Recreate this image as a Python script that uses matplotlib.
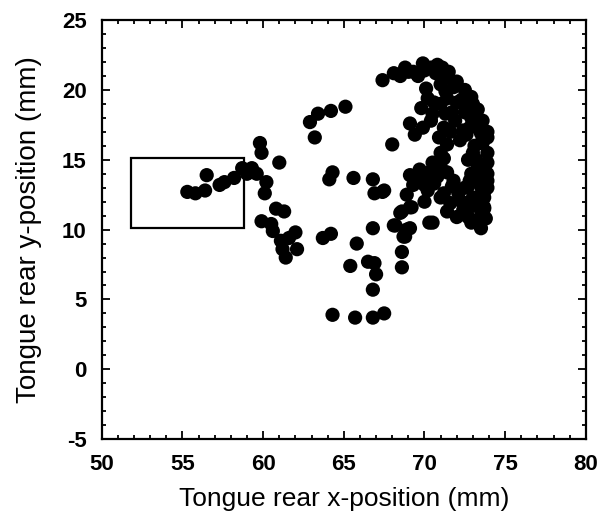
import matplotlib
matplotlib.use("Agg")
import matplotlib.pyplot as plt
from matplotlib.patches import Rectangle
from matplotlib.ticker import MultipleLocator

plt.rcParams['font.family'] = ['Liberation Sans', 'DejaVu Sans']
plt.rcParams['axes.unicode_minus'] = False

# tongue rear positions (mm)
x_front = [55.3, 55.8, 56.5, 56.4, 57.3, 57.6, 58.2, 58.7, 59.0, 59.3, 59.6, 60.2,
           60.1, 59.8, 59.9, 61.0, 60.8, 61.3, 59.9, 60.5, 60.6, 61.1, 61.6, 62.1,
           61.4, 62.0, 61.2]
y_front = [12.7, 12.6, 13.9, 12.8, 13.2, 13.4, 13.7, 14.4, 14.0, 14.4, 14.0, 13.4,
           12.6, 16.2, 15.5, 14.8, 11.5, 11.3, 10.6, 10.4, 9.9, 9.2, 9.4, 8.6,
           8.0, 9.8, 8.6]

x_mid = [62.9, 63.2, 63.4, 64.2, 65.1, 64.3, 64.1, 65.6, 66.8, 66.9, 67.4, 63.7,
         64.2, 65.4, 65.8, 66.5, 66.9, 67.0, 66.8, 64.3, 65.7, 66.8, 67.5, 66.8,
         68.0, 68.5, 68.1, 69.1, 68.9, 68.7, 68.6, 68.6, 70.3]
y_mid = [17.7, 16.6, 18.3, 18.5, 18.8, 14.1, 13.6, 13.7, 13.6, 12.6, 12.7, 9.4,
         9.7, 7.4, 9.0, 7.7, 7.6, 6.8, 5.7, 3.9, 3.7, 3.7, 4.0, 10.1,
         16.1, 11.2, 10.3, 11.6, 10.0, 9.5, 8.4, 7.3, 10.5]

x_back = [67.4, 68.1, 68.8, 69.3, 69.9, 70.4, 71.1, 71.4, 71.0, 71.8, 72.5, 70.1,
          70.2, 69.8, 70.6, 71.4, 72.0, 71.7, 72.5, 72.9, 69.1, 70.4, 69.9, 69.4,
          71.2, 71.6, 72.4, 73.3, 73.5, 73.9, 70.9, 72.2,
          71.4, 73.5, 73.9, 71.2, 72.7, 73.6, 71.0, 69.1, 69.9, 70.8, 71.4,
          73.3, 73.8, 69.3, 70.2, 71.2, 71.7, 72.7, 73.5, 73.9, 71.0, 72.2, 73.0,
          73.7, 67.5, 68.9, 69.2, 68.6, 71.4, 72.4, 72.7, 73.5, 73.7, 70.5, 68.2,
          69.1, 73.5, 68.8,
          73.0, 73.3, 72.8, 73.5, 73.0, 71.9, 72.6, 73.0, 71.3, 70.7, 69.6,
          70.3, 69.6, 70.0, 71.6, 72.0, 73.9, 73.7, 72.9, 73.2,
          68.5, 69.0, 70.0, 70.8, 71.5, 72.0, 72.9, 73.3, 73.6, 73.9, 73.9, 73.9,
          73.7, 73.4, 73.8, 72.9, 72.4, 72.1, 71.8, 70.6, 70.0, 69.7, 70.5, 71.0,
          71.3, 71.0, 70.5, 72.9, 72.5, 73.1, 72.8, 73.2, 73.6, 72.3]
y_back = [20.7, 21.2, 21.6, 21.3, 21.9, 21.6, 21.6, 20.9, 20.4, 20.2, 20.0, 20.1,
          19.4, 18.7, 19.1, 19.4, 19.1, 18.4, 18.4, 18.0, 17.6, 17.8, 17.3, 16.8,
          17.3, 17.0, 17.1, 17.5, 16.9, 16.6, 16.6, 16.4,
          16.1, 16.2, 15.5, 15.1, 15.0, 14.6, 14.5, 13.9, 13.6, 13.8, 14.1,
          13.8, 14.1, 13.2, 12.8, 12.6, 13.1, 13.1, 13.1, 13.0, 12.3, 12.1, 12.3,
          12.3, 12.8, 12.5, 11.6, 11.3, 11.3, 11.4, 10.9, 11.0, 11.6, 10.5, 10.3,
          10.1, 10.1, 9.5,
          15.5, 14.5, 13.5, 12.5, 11.7, 17.8, 16.8, 19.0, 19.9, 21.2, 21.0,
          14.1, 13.9, 12.0, 11.9, 10.9, 13.5, 11.5, 18.8, 17.9,
          21.0, 21.3, 21.4, 21.8, 21.3, 20.6, 19.5, 18.6, 17.8, 17.0, 14.8, 14.0,
          12.7, 11.8, 10.8, 10.5, 11.9, 12.6, 13.5, 13.3, 13.2, 14.3, 14.8, 15.5,
          18.3, 19.0, 18.3, 14.0, 13.0, 16.0, 17.3, 15.0, 16.2, 19.3]

# target region (mm)
box_x, box_y = 51.8, 10.1
box_w, box_h = 7.0, 5.0

fig = plt.figure(figsize=(5.99, 5.16), dpi=100)
ax = fig.add_axes([0.170, 0.149, 0.808, 0.812])

xs = x_front + x_mid + x_back
ys = y_front + y_mid + y_back
ax.scatter(xs, ys, s=105, c='black', edgecolors='none', zorder=3)

ax.add_patch(Rectangle((box_x, box_y), box_w, box_h, fill=False,
                       edgecolor='black', linewidth=1.6, zorder=2))

ax.set_xlim(50, 80)
ax.set_ylim(-5, 25)
ax.xaxis.set_major_locator(MultipleLocator(5))
ax.xaxis.set_minor_locator(MultipleLocator(1))
ax.yaxis.set_major_locator(MultipleLocator(5))
ax.yaxis.set_minor_locator(MultipleLocator(1))
ax.tick_params(which='both', direction='in', top=True, right=True, width=1.3)
ax.tick_params(which='major', length=6, labelsize=16, pad=11)
ax.tick_params(which='minor', length=3)
for lbl in ax.get_xticklabels() + ax.get_yticklabels():
    lbl.set_fontweight('bold')
for sp in ax.spines.values():
    sp.set_linewidth(1.6)

ax.set_xlabel('Tongue rear x-position (mm)', fontsize=19, labelpad=8)
ax.set_ylabel('Tongue rear y-position (mm)', fontsize=20, labelpad=14)

fig.savefig('out.png', dpi=100, facecolor='white')
